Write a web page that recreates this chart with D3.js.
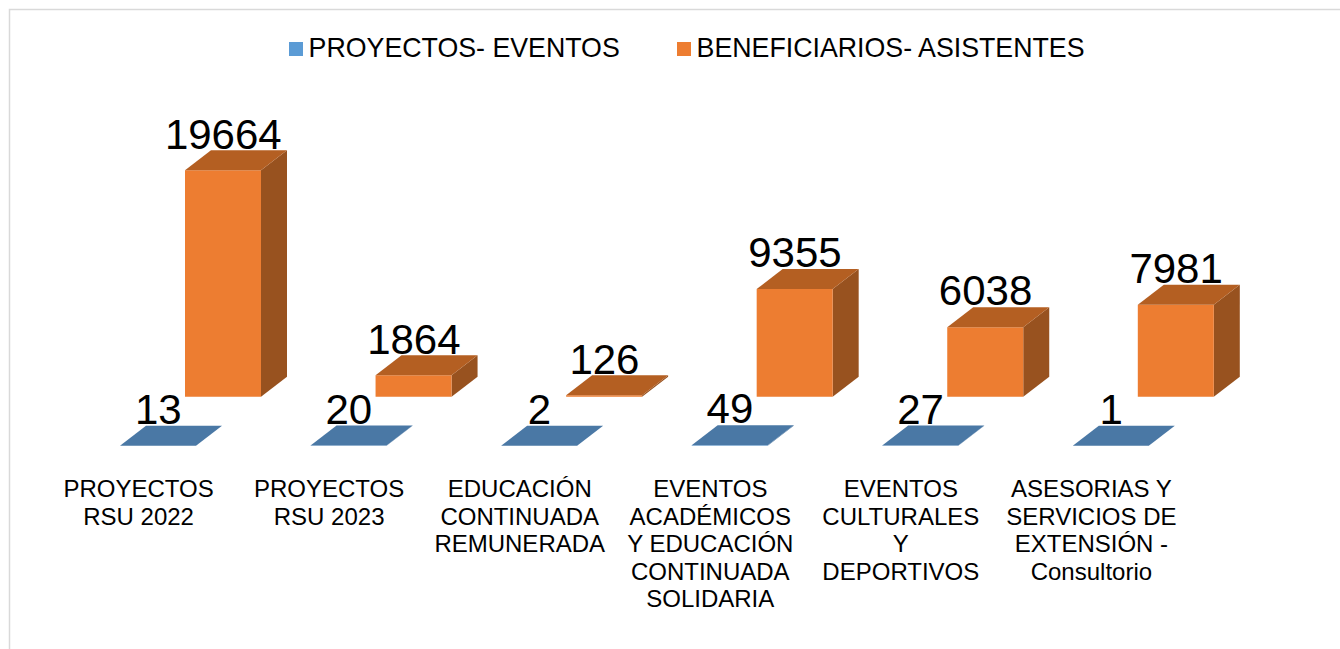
<!DOCTYPE html>
<html><head><meta charset="utf-8">
<script src="https://cdnjs.cloudflare.com/ajax/libs/d3/7.8.5/d3.min.js"></script>
<style>html,body{margin:0;padding:0;background:#fff;overflow:hidden}svg{display:block}text{font-family:"Liberation Sans",Arial,sans-serif;fill:#000}</style>
</head><body><svg id="c" width="1340" height="649"></svg>
<script>
const categories = [
  ["PROYECTOS","RSU 2022"],
  ["PROYECTOS","RSU 2023"],
  ["EDUCACIÓN","CONTINUADA","REMUNERADA"],
  ["EVENTOS","ACADÉMICOS","Y EDUCACIÓN","CONTINUADA","SOLIDARIA"],
  ["EVENTOS","CULTURALES","Y","DEPORTIVOS"],
  ["ASESORIAS Y","SERVICIOS DE","EXTENSIÓN -","Consultorio"]
];
const proyectos = [13,20,2,49,27,1];
const beneficiarios = [19664,1864,126,9355,6038,7981];
const seriesNames = ["PROYECTOS- EVENTOS","BENEFICIARIOS- ASISTENTES"];

const svg = d3.select("#c");
svg.append("path").attr("d","M9.5 649V9.5H1340").attr("fill","none").attr("stroke","#d9d9d9").attr("stroke-width",1.5);

const bw = 76, dx = 26, dy = 20;
const x = d3.scaleLinear().domain([0,5]).range([120,1072.8]);
const h = d3.scaleLinear().domain([0,19664]).range([0,226.5]);
const series = [
  {vals:proyectos, ox:0, base:445.8, front:"#5B9BD5", top:"#4A78A5", side:"#3E6A94"},
  {vals:beneficiarios, ox:65, base:396.8, front:"#ED7D31", top:"#B45F22", side:"#98521F"}
];
const poly = p => "M"+p.map(q=>q.join(" ")).join("L")+"Z";
series.slice().reverse().forEach(s=>{
  const g = svg.append("g");
  s.vals.forEach((v,i)=>{
    const l = x(i)+s.ox, r = l+bw, b = s.base, t = b-h(v);
    g.append("path").attr("d",poly([[r,b],[r+dx,b-dy],[r+dx,t-dy],[r,t]])).attr("fill",s.side);
    g.append("path").attr("d",poly([[l,b],[r,b],[r,t],[l,t]])).attr("fill",s.front);
    g.append("path").attr("d",poly([[l,t],[r,t],[r+dx,t-dy],[l+dx,t-dy]])).attr("fill",s.top);
  });
});
series.forEach(s=>{
  s.vals.forEach((v,i)=>{
    const t = s.base-h(v);
    svg.append("text").attr("x",x(i)+s.ox+bw/2+0.3).attr("y",t-dy-1.8)
      .attr("text-anchor","middle").attr("font-size",42).text(v);
  });
});
categories.forEach((lines,i)=>{
  const tx = svg.append("text").attr("text-anchor","middle").attr("font-size",24);
  lines.forEach((ln,j)=>{
    tx.append("tspan").attr("x",x(i)+18.6).attr("y",497+j*27.5).text(ln);
  });
});
const lg = [[289,308.6],[677,696.6]];
seriesNames.forEach((n,i)=>{
  svg.append("rect").attr("x",lg[i][0]).attr("y",42).attr("width",14).attr("height",14).attr("fill",series[i].front);
  svg.append("text").attr("x",lg[i][1]).attr("y",57).attr("font-size",26.75).text(n);
});
</script></body></html>
